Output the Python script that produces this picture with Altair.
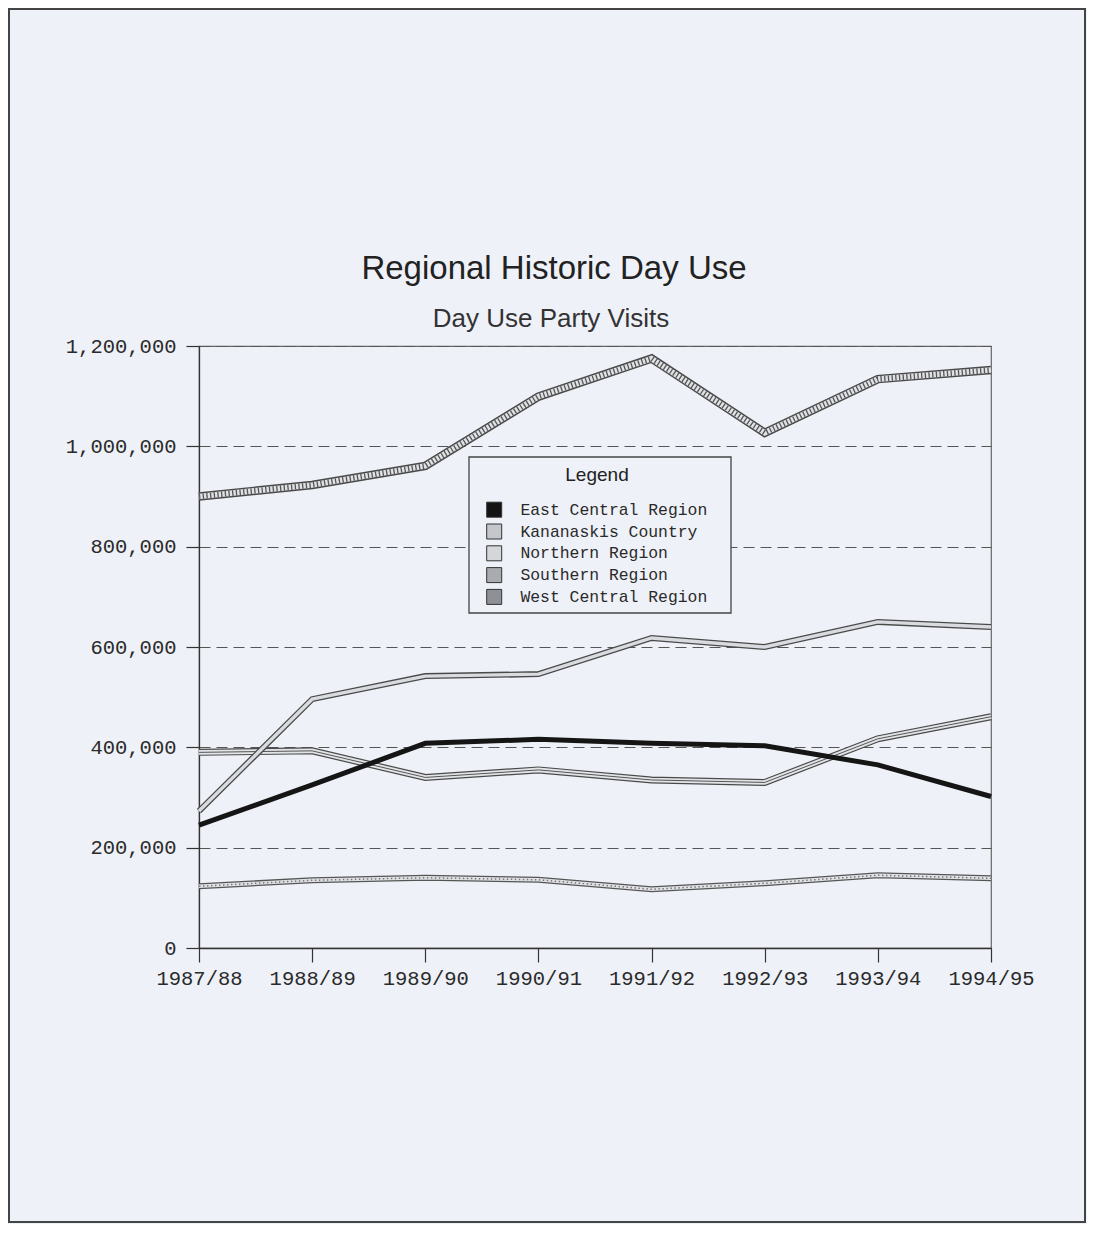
import altair as alt
import pandas as pd

# ---------------- data ----------------
years = ["1987/88", "1988/89", "1989/90", "1990/91", "1991/92", "1992/93", "1993/94", "1994/95"]
series = ["East Central Region", "Kananaskis Country", "Northern Region",
          "Southern Region", "West Central Region"]
east_central = [245000, 325000, 408000, 416000, 408000, 403000, 365000, 302000]
kananaskis = [273000, 496000, 542000, 546000, 618000, 600000, 650000, 640000]
northern = [123000, 135000, 140000, 136000, 117000, 129000, 145000, 139000]
southern = [390000, 393000, 340000, 355000, 335000, 330000, 417000, 461000]
west_central = [900000, 923000, 961000, 1099000, 1175000, 1027000, 1134000, 1152000]
y_ticks = [0, 200000, 400000, 600000, 800000, 1000000, 1200000]
title_text = "Regional Historic Day Use"
subtitle_text = "Day Use Party Visits"

values = [east_central, kananaskis, northern, southern, west_central]
rows = []
for s, vals in zip(series, values):
    for yr, v in zip(years, vals):
        rows.append({"year": yr, "series": s, "value": v})
df = pd.DataFrame(rows)

BG = "#eef1f7"
MONO = "Liberation Mono"
SANS = "Liberation Sans"

# ---------------- scales / axes ----------------
x_enc = alt.X("year:N", sort=years,
              scale=alt.Scale(type="point", padding=0),
              axis=alt.Axis(title=None, labelAngle=0, labelFont=MONO, labelFontSize=20.5,
                            labelColor="#2a2a2a", tickSize=14, tickColor="#333", tickWidth=1.2,
                            domainColor="#333", domainWidth=1.3, labelPadding=6, grid=False))
y_enc = alt.Y("value:Q",
              scale=alt.Scale(domain=[0, 1200000], nice=False),
              axis=alt.Axis(title=None, values=y_ticks, format=",d", labelFont=MONO,
                            labelFontSize=20.5, labelColor="#2a2a2a", tickSize=13,
                            tickColor="#333", tickWidth=1.2, domainColor="#333",
                            domainWidth=1.3, labelPadding=10, grid=True,
                            gridDash=[11, 6], gridColor="#555", gridWidth=1.1))

legend_fills = ["#141414", "#c4c6cb", "#d4d6da", "#a9abb0", "#8e9095"]

legend = alt.Legend(
    orient="none", legendX=287, legendY=120, title="Legend",
    titleFont=SANS, titleFontSize=19, titleFontWeight="normal", titleColor="#222",
    titleAnchor="middle", titlePadding=16.5,
    labelFont=MONO, labelFontSize=16.4, labelColor="#2a2a2a", labelOffset=18, labelLimit=400,
    symbolType="square", symbolSize=225, symbolStrokeWidth=1, symbolStrokeColor="#333",
    symbolOpacity=1, rowPadding=1.8, padding=0,
)

# invisible layer that only carries the legend (no rows reach the marks)
legend_layer = alt.Chart(df).transform_filter("false").mark_square(opacity=1, filled=True).encode(
    color=alt.Color("series:N", scale=alt.Scale(domain=series, range=legend_fills),
                    legend=legend))

base = alt.Chart(df).encode(x=x_enc, y=y_enc)


def line(s, w, c, dash=None):
    kw = dict(strokeWidth=w, color=c)
    if dash:
        kw["strokeDash"] = dash
    return base.transform_filter(alt.datum.series == s).mark_line(**kw)


lines = [
    line("Northern Region", 6, "#555"), line("Northern Region", 3.4, "#e0e2e6"),
    line("Northern Region", 1.5, "#777", [1.5, 2.5]),
    line("Southern Region", 7, "#4a4a4a"), line("Southern Region", 4.6, "#e2e4e8"),
    line("Southern Region", 1, "#555"),
    line("Kananaskis Country", 6, "#4a4a4a"), line("Kananaskis Country", 3.4, "#d9dbe0"),
    line("East Central Region", 5, "#151515"),
    line("West Central Region", 8.5, "#4a4a4a"), line("West Central Region", 5.6, "#e0e2e6"),
    line("West Central Region", 5.6, "#555", [1.3, 2.4]),
]

one = pd.DataFrame({"k": [0]})
page_border = alt.Chart(one).mark_rect(fillOpacity=0, stroke="#444", strokeWidth=2).encode(
    x=alt.value(-190), x2=alt.value(886), y=alt.value(-337), y2=alt.value(876))
legend_box = alt.Chart(one).mark_rect(fill=BG, stroke="#444", strokeWidth=1.3).encode(
    x=alt.value(270), x2=alt.value(532), y=alt.value(111), y2=alt.value(267))

title = alt.Chart(pd.DataFrame({"t": [title_text]})).mark_text(
    font=SANS, fontSize=33, color="#222", align="center", baseline="alphabetic").encode(
    x=alt.value(355), y=alt.value(-67), text="t:N")
subtitle = alt.Chart(pd.DataFrame({"t": [subtitle_text]})).mark_text(
    font=SANS, fontSize=26, color="#333", align="center", baseline="alphabetic").encode(
    x=alt.value(352), y=alt.value(-19), text="t:N")

chart = alt.layer(page_border, legend_box, *lines, legend_layer, title, subtitle).properties(
    width=792, height=602,
    autosize=alt.AutoSizeParams(type="none"),
    padding={"left": 191, "top": 338, "right": 96, "bottom": 276},
).configure(background=BG).configure_view(stroke="#666", strokeWidth=1.2)

chart.save("out.html", embed_options={"renderer": "svg", "actions": False})
